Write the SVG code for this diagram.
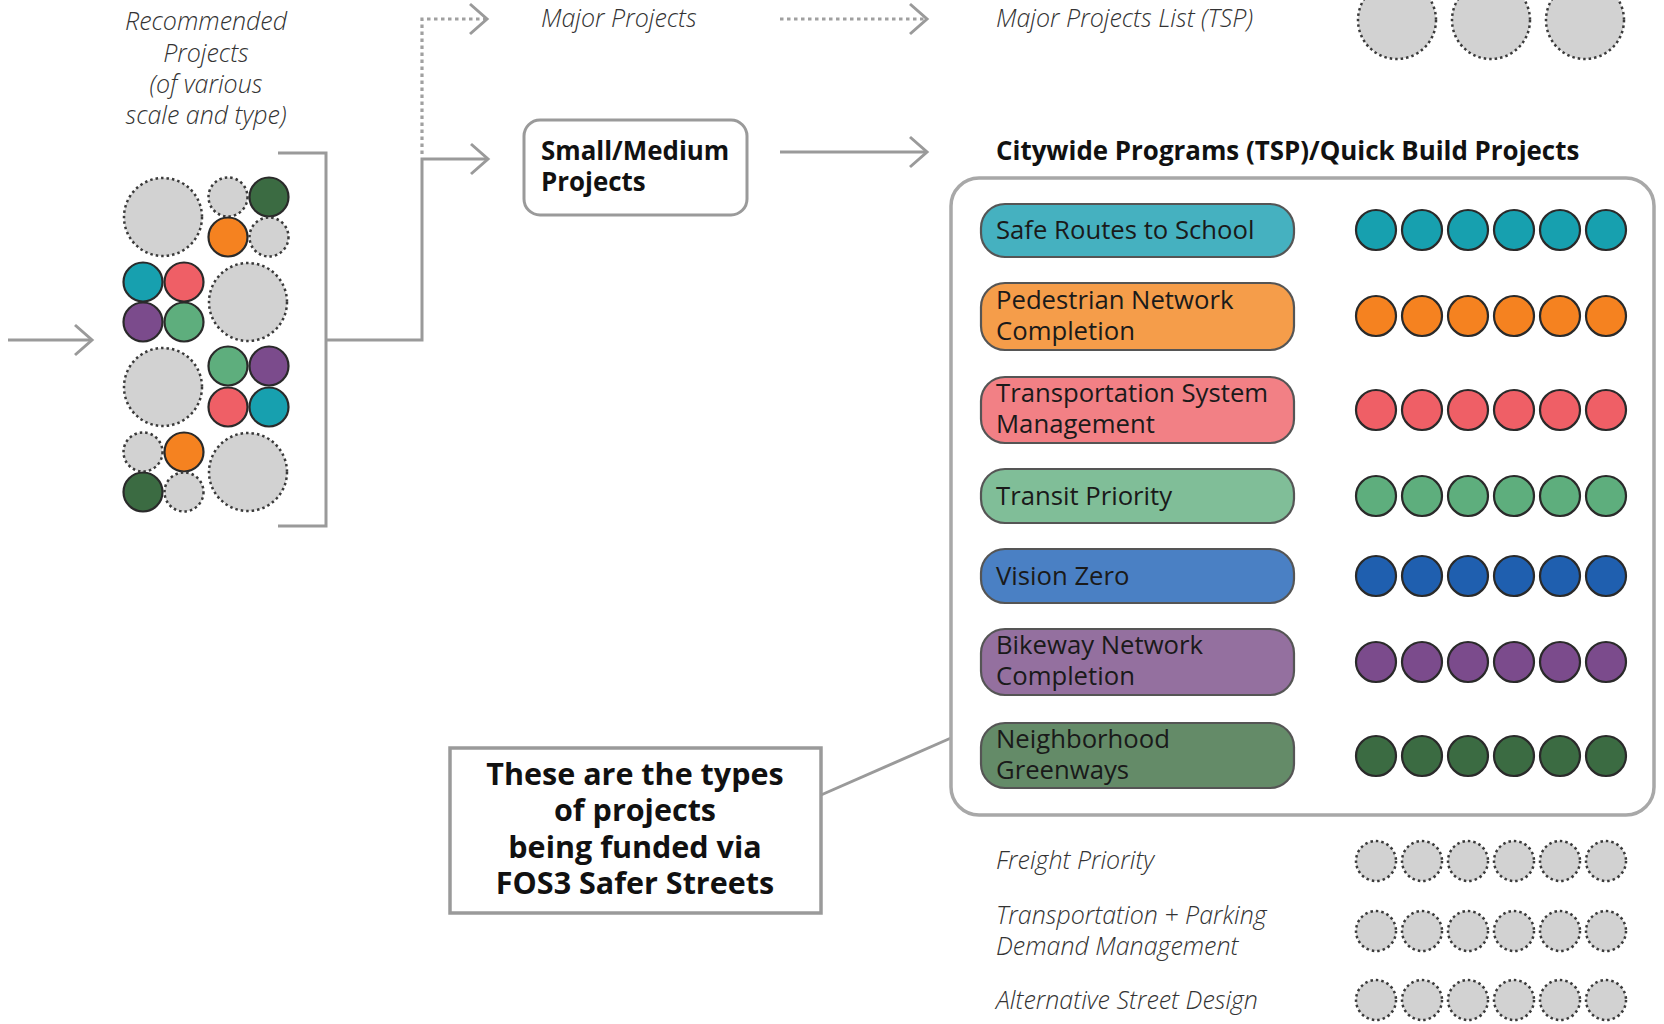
<svg xmlns="http://www.w3.org/2000/svg" width="1664" height="1024" viewBox="0 0 1664 1024">
<style>
.it{font-family:"Open Sans","Liberation Sans",sans-serif;font-style:italic;font-weight:300;font-size:25px;fill:#333}
.bd{font-family:"Open Sans","Liberation Sans",sans-serif;font-weight:700;font-size:25.9px;fill:#111}
.pl{font-family:"Open Sans","Liberation Sans",sans-serif;font-weight:400;font-size:25.7px;fill:#1a1a1a}
.cb{font-family:"Open Sans","Liberation Sans",sans-serif;font-weight:700;font-size:30.5px;fill:#111}
.con{fill:none;stroke:#9a9a9a;stroke-width:3}
.dot{fill:none;stroke:#a0a0a0;stroke-width:3.2;stroke-dasharray:3.5 3.5}
.gc{fill:#d2d2d2;stroke:#3a3a3a;stroke-width:2.5;stroke-dasharray:2.5 3}
.cc{stroke:#2a2a2a;stroke-width:2.2}
.pill{stroke:#555;stroke-width:2.2}
</style>
<defs>
<marker id="chev" viewBox="-20 -18 23 36" refX="0" refY="0" markerWidth="23" markerHeight="36" markerUnits="userSpaceOnUse" orient="auto">
<path d="M-17,-15 L0,0 L-17,15" fill="none" stroke="#9a9a9a" stroke-width="3"/>
</marker>
</defs>
<rect width="1664" height="1024" fill="#fff"/>

<g id="connectors">
<path class="con" d="M8,340 H92" marker-end="url(#chev)"/>
<path class="con" d="M278,153 H326 V526 H278"/>
<path class="con" d="M326,340 H422 V159 H488" marker-end="url(#chev)"/>
<path class="dot" d="M422,154 V19 H486"/>
<path class="con" d="M470,4 L487,19 L470,34"/>
<path class="dot" d="M780,19 H924"/>
<path class="con" d="M910,4 L927,19 L910,34"/>
<path class="con" d="M780,152 H927" marker-end="url(#chev)"/>
<path class="con" d="M821,795 L951,738"/>
</g>

<g id="recommended">
<text class="it" text-anchor="middle"><tspan x="206" y="30">Recommended</tspan><tspan x="206" y="62">Projects</tspan><tspan x="206" y="93">(of various</tspan><tspan x="206" y="124">scale and type)</tspan></text>
<g id="cluster">
<circle class="gc" cx="163" cy="217" r="39"/>
<circle class="gc" cx="228" cy="197" r="19.5"/>
<circle class="cc" cx="269" cy="197" r="19.5" fill="#3b6b42"/>
<circle class="cc" cx="228" cy="237" r="19.5" fill="#f58220"/>
<circle class="gc" cx="269" cy="237" r="19.5"/>
<circle class="cc" cx="143" cy="282" r="19.5" fill="#17a0af"/>
<circle class="cc" cx="184" cy="282" r="19.5" fill="#ef5f66"/>
<circle class="cc" cx="143" cy="322" r="19.5" fill="#7b4b8c"/>
<circle class="cc" cx="184" cy="322" r="19.5" fill="#5eae7d"/>
<circle class="gc" cx="248" cy="302" r="39"/>
<circle class="gc" cx="163" cy="387" r="39"/>
<circle class="cc" cx="228" cy="366" r="19.5" fill="#5eae7d"/>
<circle class="cc" cx="269" cy="366" r="19.5" fill="#7b4b8c"/>
<circle class="cc" cx="228" cy="407" r="19.5" fill="#ef5f66"/>
<circle class="cc" cx="269" cy="407" r="19.5" fill="#17a0af"/>
<circle class="gc" cx="143" cy="452" r="19.5"/>
<circle class="cc" cx="184" cy="452" r="19.5" fill="#f58220"/>
<circle class="cc" cx="143" cy="492" r="19.5" fill="#3b6b42"/>
<circle class="gc" cx="184" cy="492" r="19.5"/>
<circle class="gc" cx="248" cy="472" r="39"/>
</g>
</g>

<g id="major-projects">
<text class="it" x="541" y="27">Major Projects</text>
</g>
<g id="major-list">
<text class="it" x="996" y="27">Major Projects List (TSP)</text>
<circle class="gc" cx="1397" cy="20" r="39"/>
<circle class="gc" cx="1491" cy="20" r="39"/>
<circle class="gc" cx="1585" cy="20" r="39"/>
</g>

<g id="small-medium">
<rect x="524" y="120" width="223" height="95" rx="16" fill="#fff" stroke="#9a9a9a" stroke-width="3"/>
<text class="bd"><tspan x="541" y="160">Small/Medium</tspan><tspan x="541" y="191">Projects</tspan></text>
</g>

<g id="citywide">
<text class="bd" x="996" y="160">Citywide Programs (TSP)/Quick Build Projects</text>
<rect x="951" y="178" width="703" height="637" rx="28" fill="#fff" stroke="#a8a8a8" stroke-width="3.5"/>

<g id="safe-routes">
<rect class="pill" x="981" y="204" width="313" height="53" rx="24" fill="#45b1c0"/>
<text class="pl" x="996" y="239">Safe Routes to School</text>
<g class="cc" fill="#17a0af"><circle cx="1376" cy="230" r="20"/><circle cx="1422" cy="230" r="20"/><circle cx="1468" cy="230" r="20"/><circle cx="1514" cy="230" r="20"/><circle cx="1560" cy="230" r="20"/><circle cx="1606" cy="230" r="20"/></g>
</g>
<g id="pedestrian">
<rect class="pill" x="981" y="283" width="313" height="67" rx="24" fill="#f59d4a"/>
<text class="pl"><tspan x="996" y="309">Pedestrian Network</tspan><tspan x="996" y="340">Completion</tspan></text>
<g class="cc" fill="#f58220"><circle cx="1376" cy="316" r="20"/><circle cx="1422" cy="316" r="20"/><circle cx="1468" cy="316" r="20"/><circle cx="1514" cy="316" r="20"/><circle cx="1560" cy="316" r="20"/><circle cx="1606" cy="316" r="20"/></g>
</g>
<g id="tsm">
<rect class="pill" x="981" y="377" width="313" height="66" rx="24" fill="#f28085"/>
<text class="pl"><tspan x="996" y="402">Transportation System</tspan><tspan x="996" y="433">Management</tspan></text>
<g class="cc" fill="#ef5f66"><circle cx="1376" cy="410" r="20"/><circle cx="1422" cy="410" r="20"/><circle cx="1468" cy="410" r="20"/><circle cx="1514" cy="410" r="20"/><circle cx="1560" cy="410" r="20"/><circle cx="1606" cy="410" r="20"/></g>
</g>
<g id="transit">
<rect class="pill" x="981" y="469" width="313" height="54" rx="24" fill="#80be98"/>
<text class="pl" x="996" y="505">Transit Priority</text>
<g class="cc" fill="#5eae7d"><circle cx="1376" cy="496" r="20"/><circle cx="1422" cy="496" r="20"/><circle cx="1468" cy="496" r="20"/><circle cx="1514" cy="496" r="20"/><circle cx="1560" cy="496" r="20"/><circle cx="1606" cy="496" r="20"/></g>
</g>
<g id="vision-zero">
<rect class="pill" x="981" y="549" width="313" height="54" rx="24" fill="#4a80c4"/>
<text class="pl" x="996" y="585">Vision Zero</text>
<g class="cc" fill="#1f5faf"><circle cx="1376" cy="576" r="20"/><circle cx="1422" cy="576" r="20"/><circle cx="1468" cy="576" r="20"/><circle cx="1514" cy="576" r="20"/><circle cx="1560" cy="576" r="20"/><circle cx="1606" cy="576" r="20"/></g>
</g>
<g id="bikeway">
<rect class="pill" x="981" y="629" width="313" height="66" rx="24" fill="#94709f"/>
<text class="pl"><tspan x="996" y="654">Bikeway Network</tspan><tspan x="996" y="685">Completion</tspan></text>
<g class="cc" fill="#7b4b8c"><circle cx="1376" cy="662" r="20"/><circle cx="1422" cy="662" r="20"/><circle cx="1468" cy="662" r="20"/><circle cx="1514" cy="662" r="20"/><circle cx="1560" cy="662" r="20"/><circle cx="1606" cy="662" r="20"/></g>
</g>
<g id="greenways">
<rect class="pill" x="981" y="723" width="313" height="65" rx="24" fill="#648b68"/>
<text class="pl"><tspan x="996" y="748">Neighborhood</tspan><tspan x="996" y="779">Greenways</tspan></text>
<g class="cc" fill="#3b6b42"><circle cx="1376" cy="756" r="20"/><circle cx="1422" cy="756" r="20"/><circle cx="1468" cy="756" r="20"/><circle cx="1514" cy="756" r="20"/><circle cx="1560" cy="756" r="20"/><circle cx="1606" cy="756" r="20"/></g>
</g>
</g>

<g id="callout">
<rect x="450" y="748" width="371" height="165" fill="#fff" stroke="#9a9a9a" stroke-width="3.5"/>
<text class="cb" text-anchor="middle"><tspan x="635" y="785">These are the types</tspan><tspan x="635" y="821">of projects</tspan><tspan x="635" y="858">being funded via</tspan><tspan x="635" y="894">FOS3 Safer Streets</tspan></text>
</g>

<g id="freight">
<text class="it" x="996" y="869">Freight Priority</text>
<circle class="gc" cx="1376" cy="861" r="20"/><circle class="gc" cx="1422" cy="861" r="20"/><circle class="gc" cx="1468" cy="861" r="20"/><circle class="gc" cx="1514" cy="861" r="20"/><circle class="gc" cx="1560" cy="861" r="20"/><circle class="gc" cx="1606" cy="861" r="20"/>
</g>
<g id="tdm">
<text class="it"><tspan x="996" y="924">Transportation + Parking</tspan><tspan x="996" y="955">Demand Management</tspan></text>
<circle class="gc" cx="1376" cy="931" r="20"/><circle class="gc" cx="1422" cy="931" r="20"/><circle class="gc" cx="1468" cy="931" r="20"/><circle class="gc" cx="1514" cy="931" r="20"/><circle class="gc" cx="1560" cy="931" r="20"/><circle class="gc" cx="1606" cy="931" r="20"/>
</g>
<g id="alt-street">
<text class="it" x="996" y="1009">Alternative Street Design</text>
<circle class="gc" cx="1376" cy="1000" r="20"/><circle class="gc" cx="1422" cy="1000" r="20"/><circle class="gc" cx="1468" cy="1000" r="20"/><circle class="gc" cx="1514" cy="1000" r="20"/><circle class="gc" cx="1560" cy="1000" r="20"/><circle class="gc" cx="1606" cy="1000" r="20"/>
</g>
</svg>
